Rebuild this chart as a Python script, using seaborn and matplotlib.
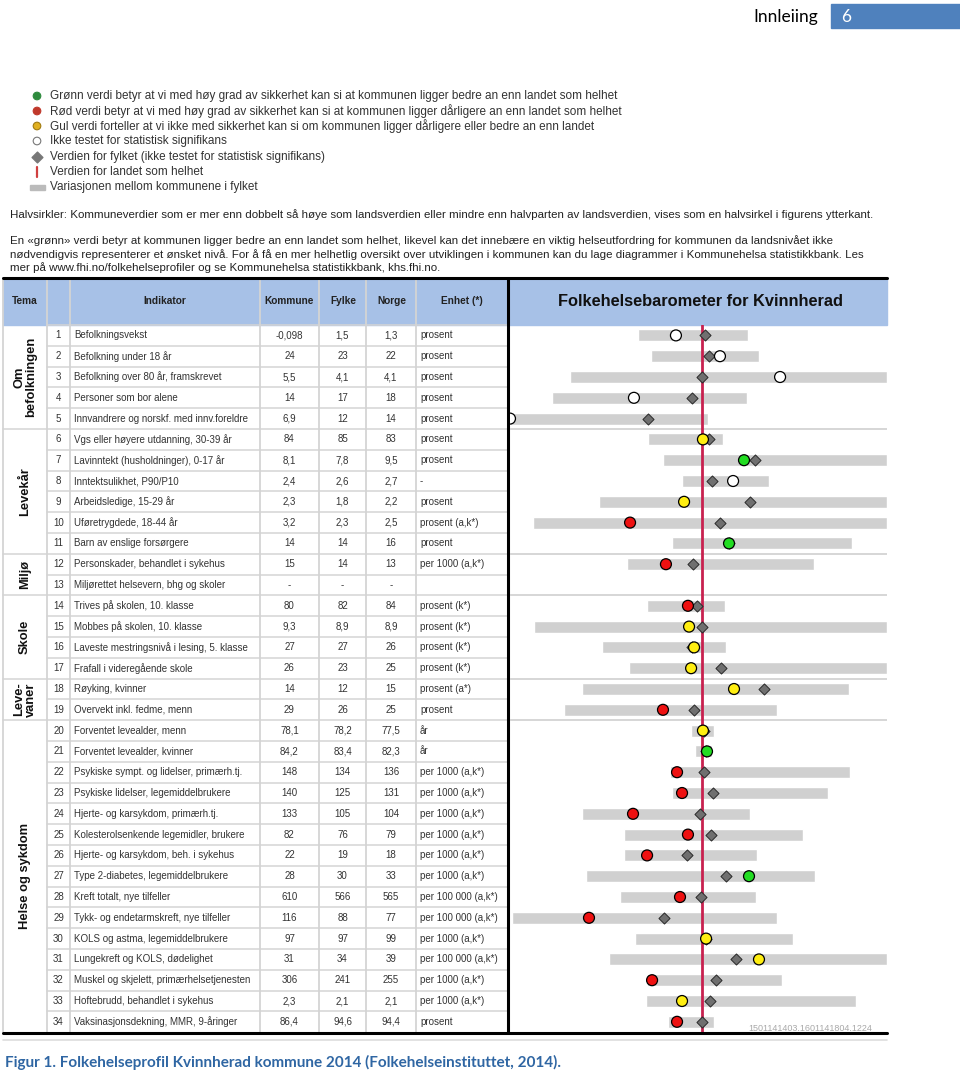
import matplotlib.pyplot as plt
import numpy as np
import pandas as pd
import seaborn as sns
from matplotlib.patches import Rectangle

# ---- table content ----
row_no = list(range(1, 35))
indicators = [
    "Befolkningsvekst", "Befolkning under 18 år", "Befolkning over 80 år, framskrevet",
    "Personer som bor alene", "Innvandrere og norskf. med innv.foreldre",
    "Vgs eller høyere utdanning, 30-39 år", "Lavinntekt (husholdninger), 0-17 år",
    "Inntektsulikhet, P90/P10", "Arbeidsledige, 15-29 år", "Uføretrygdede, 18-44 år",
    "Barn av enslige forsørgere", "Personskader, behandlet i sykehus",
    "Miljørettet helsevern, bhg og skoler", "Trives på skolen, 10. klasse",
    "Mobbes på skolen, 10. klasse", "Laveste mestringsnivå i lesing, 5. klasse",
    "Frafall i videregående skole", "Røyking, kvinner", "Overvekt inkl. fedme, menn",
    "Forventet levealder, menn", "Forventet levealder, kvinner",
    "Psykiske sympt. og lidelser, primærh.tj.", "Psykiske lidelser, legemiddelbrukere",
    "Hjerte- og karsykdom, primærh.tj.", "Kolesterolsenkende legemidler, brukere",
    "Hjerte- og karsykdom, beh. i sykehus", "Type 2-diabetes, legemiddelbrukere",
    "Kreft totalt, nye tilfeller", "Tykk- og endetarmskreft, nye tilfeller",
    "KOLS og astma, legemiddelbrukere", "Lungekreft og KOLS, dødelighet",
    "Muskel og skjelett, primærhelsetjenesten", "Hoftebrudd, behandlet i sykehus",
    "Vaksinasjonsdekning, MMR, 9-åringer"]
kommune_txt = ["-0,098", "24", "5,5", "14", "6,9", "84", "8,1", "2,4", "2,3", "3,2", "14",
               "15", "-", "80", "9,3", "27", "26", "14", "29", "78,1", "84,2", "148", "140",
               "133", "82", "22", "28", "610", "116", "97", "31", "306", "2,3", "86,4"]
fylke_txt = ["1,5", "23", "4,1", "17", "12", "85", "7,8", "2,6", "1,8", "2,3", "14",
             "14", "-", "82", "8,9", "27", "23", "12", "26", "78,2", "83,4", "134", "125",
             "105", "76", "19", "30", "566", "88", "97", "34", "241", "2,1", "94,6"]
norge_txt = ["1,3", "22", "4,1", "18", "14", "83", "9,5", "2,7", "2,2", "2,5", "16",
             "13", "-", "84", "8,9", "26", "25", "15", "25", "77,5", "82,3", "136", "131",
             "104", "79", "18", "33", "565", "77", "99", "39", "255", "2,1", "94,4"]
enhet_txt = ["prosent"] * 7 + ["-", "prosent", "prosent (a,k*)", "prosent",
             "per 1000 (a,k*)", ""] + ["prosent (k*)"] * 4 + \
            ["prosent (a*)", "prosent", "år", "år"] + ["per 1000 (a,k*)"] * 6 + \
            ["per 100 000 (a,k*)"] * 2 + ["per 1000 (a,k*)", "per 100 000 (a,k*)",
                                         "per 1000 (a,k*)", "per 1000 (a,k*)", "prosent"]
themes = [("Om\nbefolkningen", 1, 5), ("Levekår", 6, 11), ("Miljø", 12, 13),
          ("Skole", 14, 17), ("Leve-\nvaner", 18, 19), ("Helse og sykdom", 20, 34)]

# ---- barometer (standardised scale, Norway = 0) ----
bar_low = [-0.346, -0.276, -0.714, -0.811, -1.038, -0.292, -0.211, -0.108, -0.557, -0.914,
           -0.162, -0.405, np.nan, -0.297, -0.908, -0.541, -0.395, -0.649, -0.746, -0.059,
           -0.038, -0.173, -0.162, -0.649, -0.422, -0.422, -0.627, -0.443, -1.027, -0.362,
           -0.503, -0.297, -0.303, -0.184]
bar_high = [0.249, 0.308, 1.0, 0.243, 0.032, 0.114, 1.0, 0.362, 1.0, 1.0,
            0.811, 0.605, np.nan, 0.124, 1.0, 0.130, 1.0, 0.795, 0.405, 0.065,
            0.054, 0.800, 0.681, 0.259, 0.546, 0.297, 0.611, 0.292, 0.405, 0.492,
            1.0, 0.432, 0.832, 0.065]
kommune_pos = [-0.141, 0.097, 0.422, -0.368, -1.038, 0.005, 0.227, 0.168, -0.097, -0.389,
               0.146, -0.195, np.nan, -0.076, -0.070, -0.043, -0.059, 0.173, -0.211, 0.005,
               0.027, -0.135, -0.108, -0.373, -0.076, -0.297, 0.254, -0.119, -0.611, 0.022,
               0.308, -0.270, -0.108, -0.135]
fylke_pos = [0.016, 0.038, 0.0, -0.054, -0.292, 0.038, 0.286, 0.054, 0.259, 0.097,
             0.146, -0.049, np.nan, -0.027, 0.0, -0.054, 0.103, 0.335, -0.043, 0.011,
             0.022, 0.011, 0.059, -0.011, 0.049, -0.081, 0.130, -0.005, -0.205, 0.022,
             0.184, 0.076, 0.043, 0.0]
status = ["ikke", "ikke", "ikke", "ikke", "ikke", "gul", "grønn", "ikke", "gul", "rød",
          "grønn", "rød", None, "rød", "gul", "gul", "gul", "gul", "rød", "gul",
          "grønn", "rød", "rød", "rød", "rød", "rød", "grønn", "rød", "rød", "gul",
          "gul", "rød", "gul", "rød"]
status_colors = {"grønn": "#22dd22", "rød": "#ee1111", "gul": "#ffee11", "ikke": "#ffffff"}

legend_lines = [
    "Grønn verdi betyr at vi med høy grad av sikkerhet kan si at kommunen ligger bedre an enn landet som helhet",
    "Rød verdi betyr at vi med høy grad av sikkerhet kan si at kommunen ligger dårligere an enn landet som helhet",
    "Gul verdi forteller at vi ikke med sikkerhet kan si om kommunen ligger dårligere eller bedre an enn landet",
    "Ikke testet for statistisk signifikans",
    "Verdien for fylket (ikke testet for statistisk signifikans)",
    "Verdien for landet som helhet",
    "Variasjonen mellom kommunene i fylket"]

df = pd.DataFrame({"nr": row_no, "low": bar_low, "high": bar_high,
                   "kommune": kommune_pos, "fylke": fylke_pos, "status": status})

sns.set_theme(style="white")
plt.rcParams['font.family'] = ['Liberation Sans', 'DejaVu Sans']

W, H = 960, 1072
fig = plt.figure(figsize=(W / 100, H / 100), dpi=100)
page = fig.add_axes([0, 0, 1, 1])
page.set_xlim(0, W)
page.set_ylim(H, 0)
page.axis('off')

txt_col = '#333333'
grid_col = '#d4d4d4'

# ---- page header ----
page.text(818, 17, "Innleiing", ha='right', va='center', fontsize=12.5,
          family=['Lato', 'DejaVu Sans'], color='black')
page.add_patch(Rectangle((831, 4), 129, 24, color='#4f81bd'))
page.text(841, 17, "6", ha='left', va='center', fontsize=12.5, color='white',
          family=['Lato', 'DejaVu Sans'])

# ---- legend ----
leg_y = [96, 111, 126, 141, 157, 172, 187]
for y, line in zip(leg_y, legend_lines):
    page.text(50, y, line, ha='left', va='center', fontsize=8.5, color=txt_col)
page.scatter([37, 37, 37, 37], leg_y[:4], s=30,
             c=['#2e8b3e', '#c0392b', '#e0b020', 'white'],
             edgecolors=['#2e8b3e', '#c0392b', '#a07a10', '#777777'], linewidths=0.8, zorder=3)
page.scatter([37], [leg_y[4]], s=30, marker='D', c='#777777', zorder=3)
page.plot([37, 37], [leg_y[5] - 5, leg_y[5] + 5], color='#d04040', lw=1.6)
page.add_patch(Rectangle((30, leg_y[6] - 2.5), 15, 5, color='#bbbbbb'))

page.text(10, 215, "Halvsirkler: Kommuneverdier som er mer enn dobbelt så høye som landsverdien "
          "eller mindre enn halvparten av landsverdien, vises som en halvsirkel i figurens ytterkant.",
          ha='left', va='center', fontsize=8.25, color='#222222')
para = ["En «grønn» verdi betyr at kommunen ligger bedre an enn landet som helhet, likevel kan det "
        "innebære en viktig helseutfordring for kommunen da landsnivået ikke",
        "nødvendigvis representerer et ønsket nivå. For å få en mer helhetlig oversikt over utviklingen "
        "i kommunen kan du lage diagrammer i Kommunehelsa statistikkbank. Les",
        "mer på www.fhi.no/folkehelseprofiler og se Kommunehelsa statistikkbank, khs.fhi.no."]
for i, line in enumerate(para):
    page.text(10, 241 + i * 13.5, line, ha='left', va='center', fontsize=8.25, color='#222222')

# ---- table geometry ----
top, head_bot, row_h = 278, 325, 20.8
n_rows = len(row_no)
tab_bot = head_bot + n_rows * row_h
col_edges = [3, 47, 70, 260, 319, 366, 416, 508]
baro_right = 887

page.add_patch(Rectangle((3, top), baro_right - 3, head_bot - top, color='#a7c1e7', zorder=0))
for x in col_edges[1:-1]:
    page.plot([x, x], [top, tab_bot], color=grid_col, lw=1.3, zorder=1)
page.plot([3, 3], [top, tab_bot], color=grid_col, lw=1.3, zorder=1)

group_ends = [t[2] for t in themes[:-1]]
for i in range(1, n_rows):
    y = head_bot + i * row_h
    x0 = 3 if i in group_ends else 47
    page.plot([x0, 508], [y, y], color=grid_col, lw=1.1, zorder=1)
page.plot([47, 508], [head_bot, head_bot], color=grid_col, lw=1.1, zorder=1)

# thick borders
page.plot([3, baro_right], [top, top], color='black', lw=2.2, zorder=5)
page.plot([3, baro_right], [tab_bot + 1, tab_bot + 1], color='black', lw=2.2, zorder=5)
page.plot([508, 508], [top, tab_bot + 1], color='black', lw=2.2, zorder=5)
page.plot([3, baro_right], [tab_bot + 8, tab_bot + 8], color='#dddddd', lw=1.2, zorder=1)

# header labels
hy = (top + head_bot) / 2
for x, lab in [(25, "Tema"), (165, "Indikator"), (289, "Kommune"), (343, "Fylke"),
               (392, "Norge"), (462, "Enhet (*)")]:
    page.text(x, hy, lab, ha='center', va='center', fontsize=7.3, fontweight='bold',
              color='#222222')
page.text(700, hy, "Folkehelsebarometer for Kvinnherad", ha='center', va='center',
          fontsize=11.8, fontweight='bold', color='#111111')

# rows
for i, nr in enumerate(row_no):
    y = head_bot + (i + 0.5) * row_h
    page.text(58.5, y, str(nr), ha='center', va='center', fontsize=7, color=txt_col)
    page.text(74, y, indicators[i], ha='left', va='center', fontsize=7, color=txt_col)
    page.text(289.5, y, kommune_txt[i], ha='center', va='center', fontsize=7, color=txt_col)
    page.text(342.5, y, fylke_txt[i], ha='center', va='center', fontsize=7, color=txt_col)
    page.text(391, y, norge_txt[i], ha='center', va='center', fontsize=7, color=txt_col)
    page.text(420, y, enhet_txt[i], ha='left', va='center', fontsize=7, color=txt_col)

for name, a, b in themes:
    yc = head_bot + ((a - 1) + b) / 2 * row_h
    page.text(25, yc, name, ha='center', va='center', rotation=90, fontsize=9.3,
              fontweight='bold', color='#111111', linespacing=0.95, multialignment='center')

# ---- barometer panel ----
x_min, x_max = -1.038, 1.0
ax = fig.add_axes([510 / W, 1 - tab_bot / H, (baro_right - 510) / W, (tab_bot - head_bot) / H])
ax.patch.set_alpha(0)

for g in group_ends:
    ax.axhline(g + 0.5, color='#cccccc', lw=1.1, zorder=0)

bars = df.dropna(subset=["low"])
ax.barh(bars["nr"], bars["high"] - bars["low"], left=bars["low"], height=0.58,
        color='#d0d0d0', zorder=1)
ax.axvline(0, color='#c8214f', lw=2, zorder=2)

pts = df.dropna(subset=["kommune"])
sns.scatterplot(data=pts, x="fylke", y="nr", marker='D', s=32, color='#6f6f6f',
                edgecolor='#2a2a2a', linewidth=0.7, ax=ax, zorder=3, legend=False)
sns.scatterplot(data=pts, x="kommune", y="nr", hue="status", palette=status_colors,
                s=62, edgecolor='black', linewidth=0.9, ax=ax, zorder=4, legend=False)
ax.set_xlim(x_min, x_max)
ax.set_ylim(n_rows + 0.5, 0.5)
ax.set_axis_off()

ax.text(0.25, n_rows + 0.3, "1501141403.1601141804.1224", ha='left', va='center',
        fontsize=6.5, color='#a8a8a8', clip_on=True)

# ---- caption ----
page.text(5, 1062, "Figur 1. Folkehelseprofil Kvinnherad kommune 2014 (Folkehelseinstituttet, 2014).",
          ha='left', va='center', fontsize=11, fontweight='bold', color='#2f66a3',
          family=['Lato', 'DejaVu Sans'])

fig.savefig("out.png", dpi=100, facecolor='white')
